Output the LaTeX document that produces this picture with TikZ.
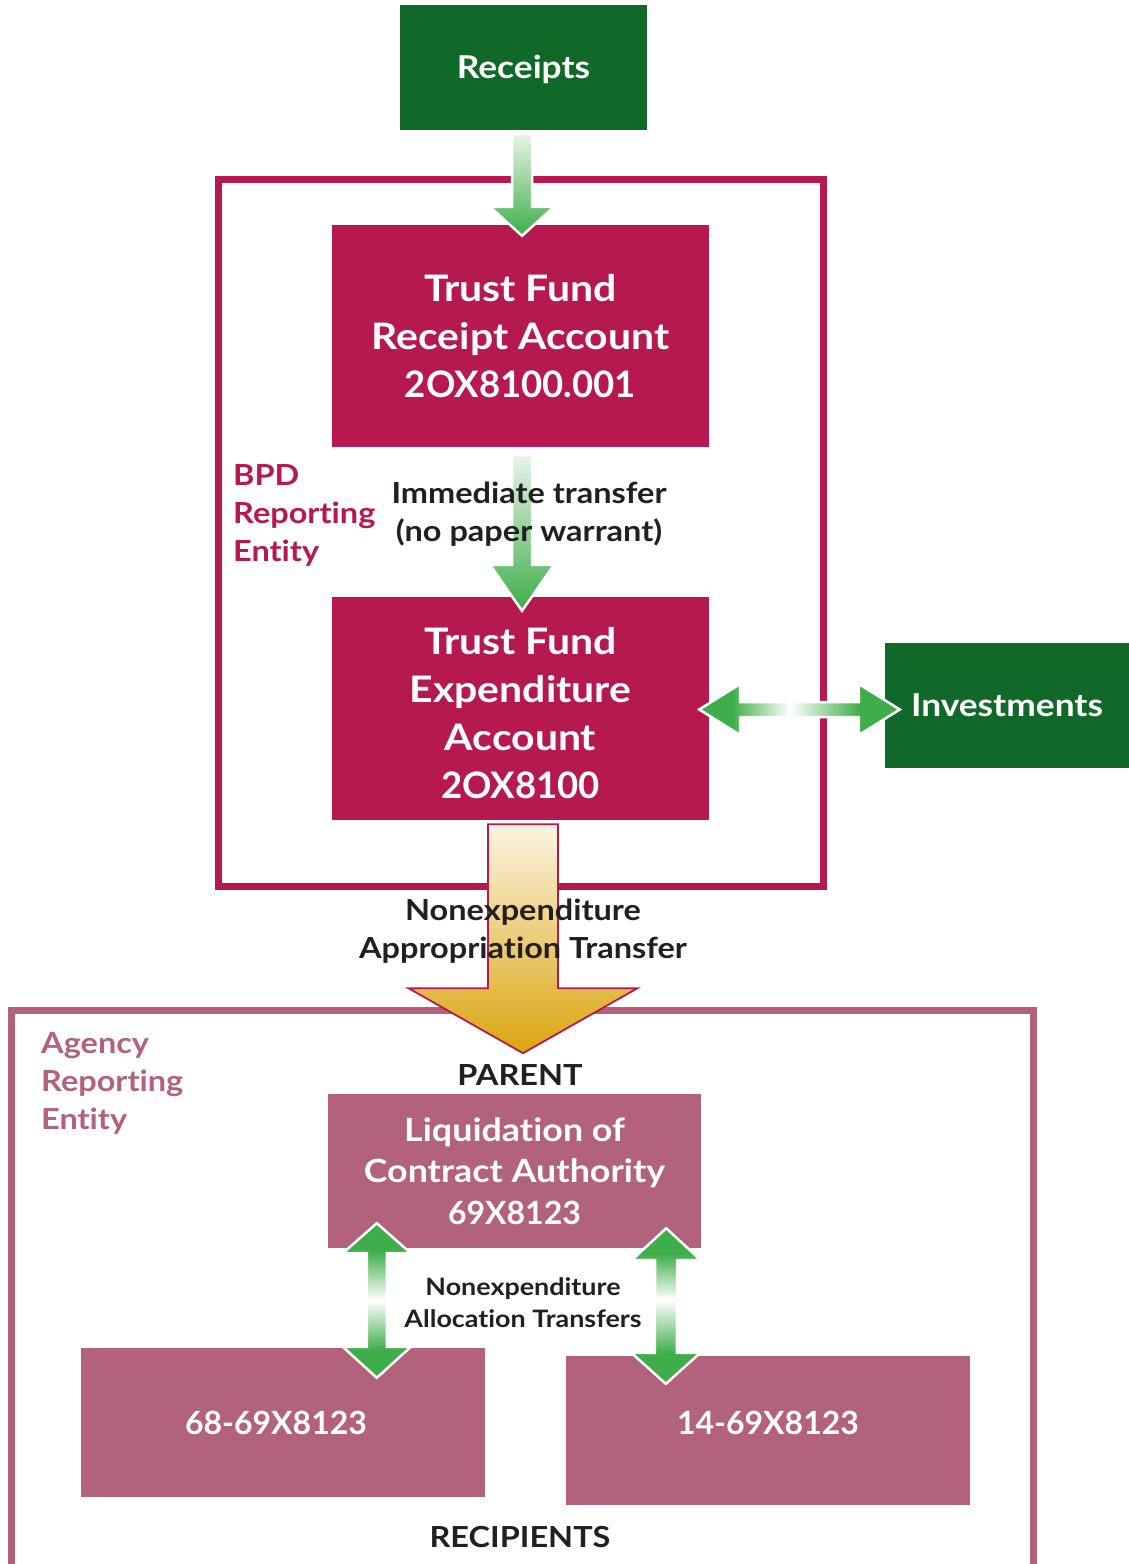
\documentclass[tikz,border=0pt]{standalone}
\usepackage{fontspec}
\setmainfont{Lato}[FakeStretch=1.12, Ligatures=NoCommon]
\newfontfamily\nums{Lato}[Ligatures=NoCommon]
\usetikzlibrary{calc}
\definecolor{crimson}{RGB}{181,25,79}
\definecolor{dkgreen}{RGB}{16,105,41}
\definecolor{mauve}{RGB}{178,98,122}
\definecolor{ag}{RGB}{61,174,73}
\definecolor{agl}{RGB}{232,243,230}
\definecolor{gold}{RGB}{219,165,15}
\definecolor{cream}{RGB}{251,244,226}
\definecolor{txtblack}{RGB}{35,31,32}
\pgfdeclarehorizontalshading{gL}{100bp}{color(0bp)=(ag); color(43bp)=(ag); color(75bp)=(white); color(100bp)=(white)}
\pgfdeclarehorizontalshading{gR}{100bp}{color(0bp)=(white); color(25bp)=(white); color(57bp)=(ag); color(100bp)=(ag)}
\pgfdeclareverticalshading{gTop}{100bp}{color(0bp)=(white); color(25bp)=(white); color(57bp)=(ag); color(100bp)=(ag)}
\pgfdeclareverticalshading{gBot}{100bp}{color(0bp)=(ag); color(43bp)=(ag); color(75bp)=(white); color(100bp)=(white)}
% vertical fat arrow: #1 style, #2 start, #3 tip, #4 half shaft, #5 half head, #6 signed head length
\newcommand\fatv[6]{%
  \path[#1] ($(#2 -| #3)+(-#4,0)$) -- ($(#2 -| #3)+(#4,0)$) -- ($(#3)+({#4},{-(#6)})$) -- ($(#3)+({#5},{-(#6)})$) -- (#3) -- ($(#3)+({-#5},{-(#6)})$) -- ($(#3)+({-#4},{-(#6)})$) -- cycle;}
% horizontal fat arrow
\newcommand\fath[6]{%
  \path[#1] ($(#2 |- #3)+(0,-#4)$) -- ($(#2 |- #3)+(0,#4)$) -- ($(#3)+({-(#6)},{#4})$) -- ($(#3)+({-(#6)},{#5})$) -- (#3) -- ($(#3)+({-(#6)},{-#5})$) -- ($(#3)+({-(#6)},{-#4})$) -- cycle;}
\begin{document}
\begin{tikzpicture}[x=1pt,y=-1pt,
  box/.style={rectangle, inner sep=0pt, align=center, text=white, font=\bfseries\fontsize{36.5}{48}\selectfont},
  gbox/.style={box, fill=dkgreen, font=\bfseries\fontsize{31.5}{40}\selectfont},
  cbox/.style={box, fill=crimson},
  mbox/.style={box, fill=mauve, font=\bfseries\fontsize{32}{41.5}\selectfont},
  lbl/.style={inner sep=0pt, align=center, text=txtblack, font=\bfseries\fontsize{29}{38}\selectfont},
  frm/.style={line width=7pt, line join=miter},
  gsolid/.style={draw=white, line width=2.5pt, line join=miter, top color=agl, bottom color=ag},
  ghalf/.style={draw=white, line width=2.5pt, line join=miter, shade, shading=#1},
  goldarrow/.style={draw=crimson, line width=1.8pt, line join=miter, top color=cream, bottom color=gold}]
\useasboundingbox[fill=white] (0,0) rectangle (1129,1564);

% frames
\node[frm, draw=crimson, minimum width=605, minimum height=707, inner sep=0pt] (bpd) at (520.5,533) {};
\draw[frm, draw=mauve] (11,1575) -- (11,1010.5) -- (1033,1010.5) -- (1033,1575);

% boxes
\node[gbox, minimum width=247, minimum height=125] (rcpt) at (523.5,67.5) {\raisebox{-2pt}[\height][\depth]{Receipts}};
\node[cbox, minimum width=377, minimum height=222] (tfr) at (520.5,336) {Trust Fund\\Receipt Account\\{\nums 2OX8100.001}};
\node[cbox, minimum width=377, minimum height=223] (tfe) at (520.5,708.5) {\raisebox{-8pt}[\height][\depth]{\begin{tabular}{@{}c@{}}Trust Fund\\Expenditure\\Account\\{\nums 2OX8100}\end{tabular}}};
\node[gbox, minimum width=244, minimum height=125] (inv) at (1007,705.5) {Investments};
\node[mbox, minimum width=373, minimum height=154] (liq) at (514.5,1171) {Liquidation of\\Contract Authority\\{\nums 69X8123}};
\node[mbox, minimum width=404, minimum height=149] (lb) at (283,1422.5) {\nums\kern-14pt 68-69X8123};
\node[mbox, minimum width=404, minimum height=149] (rb) at (768,1430.5) {\raisebox{8pt}[\height][\depth]{\nums 14-69X8123}};

% arrow Receipts -> Receipt Account
\coordinate (aAs) at ($(rcpt.south)+(-1.5,4)$);
\coordinate (aAt) at ($(tfr.north)+(1.5,11)$);
\fatv{gsolid}{aAs}{aAt}{10}{32}{29}

% arrow Receipt Account -> Expenditure Account
\coordinate (aBs) at ($(tfr.south)+(1.5,8)$);
\coordinate (aBt) at ($(tfe.north)+(1.5,14)$);
\fatv{gsolid}{aBs}{aBt}{10}{32}{46}

% double arrow Expenditure <-> Investments
\coordinate (hm) at ($(tfe.east)!0.459!(inv.west)+(0,2)$);
\coordinate (hl) at ($(tfe.east)+(-10,1)$);
\coordinate (hr) at ($(inv.west)+(15,4)$);
\fath{ghalf=gL}{hm}{hl}{7.5}{25.5}{-41}
\fath{ghalf=gR}{hm}{hr}{7.5}{25.5}{41}

% big gold arrow
\coordinate (gs) at ($(tfe.south)+(2.5,4)$);
\coordinate (gt) at ($(tfe.south)+(2.5,233)$);
\fatv{goldarrow}{gs}{gt}{35}{114.5}{65}

% vertical double arrows
\coordinate (v1t) at ($(liq.south west)+(49,-25)$);
\coordinate (v1b) at ($(lb.north west)+(296,30)$);
\coordinate (v1m) at ($(v1t)!0.5!(v1b)$);
\fatv{ghalf=gTop}{v1m}{v1t}{10}{34}{-30}
\fatv{ghalf=gBot}{v1m}{v1b}{10}{34}{31}
\coordinate (v2t) at ($(liq.south east)+(-35,-20)$);
\coordinate (v2b) at ($(rb.north west)+(100,28)$);
\coordinate (v2m) at ($(v2t)!0.46!(v2b)$);
\fatv{ghalf=gTop}{v2m}{v2t}{11}{34.5}{-32}
\fatv{ghalf=gBot}{v2m}{v2b}{11}{34.5}{31}

% labels
\node[lbl] (imm) at (529,514) {Immediate transfer\\(no paper warrant)};
\node[lbl, text=crimson, align=left, anchor=west] (bpdl) at (233,515) {BPD\\Reporting\\Entity};
\node[lbl] (nat) at (523,931) {Nonexpenditure\\Appropriation Transfer};
\node[lbl] (par) at (520,1075) {PARENT};
\node[lbl, text=mauve, align=left, anchor=west] (agy) at (41,1083) {Agency\\Reporting\\Entity};
\node[lbl, font=\bfseries\fontsize{24}{32}\selectfont] (nal) at (523,1303) {Nonexpenditure\\Allocation Transfers};
\node[lbl] (rec) at (520,1537) {RECIPIENTS};
\end{tikzpicture}
\end{document}
